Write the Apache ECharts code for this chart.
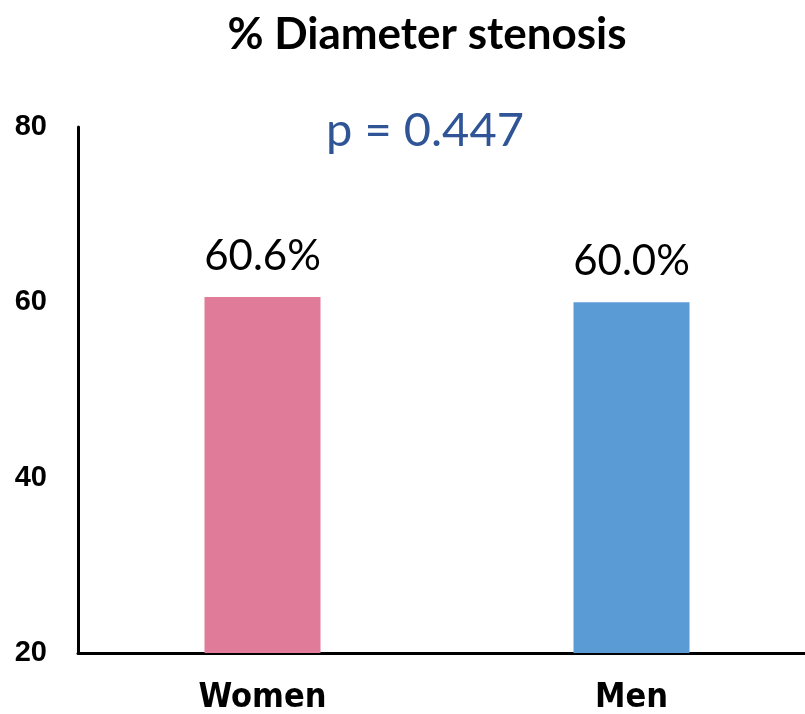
<!DOCTYPE html>
<html>
<head>
<meta charset="utf-8">
<script src="https://cdn.jsdelivr.net/npm/echarts@6/dist/echarts.min.js"></script>
<style>
  html, body { margin: 0; padding: 0; background: #fff; }
  #chart { width: 805px; height: 714px; }
</style>
</head>
<body>
<div id="chart"></div>
<script>
// Mean percent diameter stenosis by sex
const categories = ['Women', 'Men'];
const stenosis = [60.6, 60.0];
const barColors = ['#E07B9A', '#5B9BD5'];
const yTicks = [20, 40, 60, 80];
const pValueText = 'p = 0.447';

const chart = echarts.init(document.getElementById('chart'));

chart.setOption({
  animation: false,
  backgroundColor: '#ffffff',
  title: {
    text: '% Diameter stenosis',
    left: 422,
    top: 8,
    textAlign: 'center',
    textStyle: {
      fontFamily: 'Lato',
      fontWeight: 'bold',
      fontSize: 44,
      color: '#000'
    }
  },
  graphic: [{
    type: 'text',
    style: {
      text: pValueText,
      x: 425,
      y: 131,
      textAlign: 'center',
      textVerticalAlign: 'middle',
      fontFamily: 'Lato',
      fontSize: 47,
      fill: '#2F5597'
    }
  }],
  grid: {
    left: 78,
    width: 738,
    top: 127,
    bottom: 61,
    containLabel: false,
    outerBoundsMode: 'none'
  },
  xAxis: {
    type: 'category',
    data: categories,
    axisLine: { lineStyle: { color: '#000', width: 3 } },
    axisTick: { show: false },
    axisLabel: {
      margin: 28,
      fontFamily: '"DejaVu Sans Condensed", "Liberation Sans"',
      fontWeight: 'bold',
      fontSize: 34,
      color: '#000'
    }
  },
  yAxis: {
    type: 'value',
    min: yTicks[0],
    max: yTicks[yTicks.length - 1],
    interval: 20,
    splitLine: { show: false },
    axisLine: { show: true, lineStyle: { color: '#000', width: 3 } },
    axisTick: { show: false },
    axisLabel: {
      margin: 31,
      fontFamily: 'Liberation Sans',
      fontWeight: 'bold',
      fontSize: 29,
      color: '#000'
    }
  },
  series: [{
    type: 'bar',
    barWidth: 116,
    data: stenosis.map((v, i) => ({ value: v, itemStyle: { color: barColors[i] } })),
    label: {
      show: true,
      position: 'top',
      distance: 20,
      formatter: p => p.value.toFixed(1) + '%',
      fontFamily: 'Lato',
      fontSize: 42,
      color: '#000'
    }
  }]
});
</script>
</body>
</html>
